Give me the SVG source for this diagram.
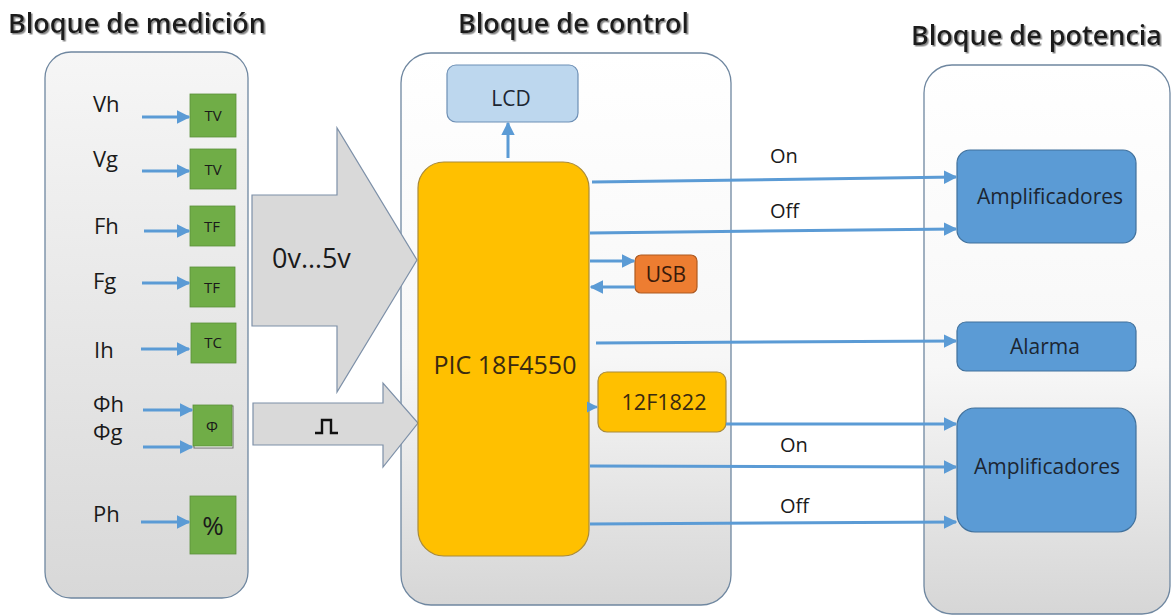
<svg xmlns="http://www.w3.org/2000/svg" width="1171" height="616" viewBox="0 0 1171 616">
<defs>
  <linearGradient id="gBlock" x1="0" y1="0" x2="0" y2="1">
    <stop offset="0" stop-color="#ffffff"/>
    <stop offset="0.55" stop-color="#f7f7f7"/>
    <stop offset="1" stop-color="#d6d6d6"/>
  </linearGradient>
  <linearGradient id="gMeas" x1="0" y1="0" x2="0" y2="1">
    <stop offset="0" stop-color="#f6f6f6"/>
    <stop offset="1" stop-color="#d8d8d8"/>
  </linearGradient>
  <filter id="shadow" x="-5%" y="-20%" width="110%" height="160%">
    <feDropShadow dx="1.5" dy="1.5" stdDeviation="0.6" flood-color="#8a8a8a" flood-opacity="1"/>
  </filter>
  <marker id="arr" viewBox="0 0 10 10" refX="9" refY="5" markerWidth="4.5" markerHeight="4.5" orient="auto" markerUnits="strokeWidth">
    <path d="M0,0 L10,5 L0,10 Z" fill="#5b9bd5"/>
  </marker>
  <style>
    .title{font-family:"Open Sans","Liberation Sans",sans-serif;font-size:27px;font-weight:600;fill:#1e1e1e}
    .lbl{font-family:"Open Sans","Liberation Sans",sans-serif;font-size:22px;fill:#1a1a1a}
    .small{font-family:"Open Sans","Liberation Sans",sans-serif;font-size:15px;fill:#1a1a1a;text-anchor:middle}
    .mid{font-family:"Open Sans","Liberation Sans",sans-serif;font-size:21px;fill:#1c2633;text-anchor:middle}
    .block{stroke:#6f87a0;stroke-width:1.3;fill:url(#gBlock)}
    .green{fill:#70ad47;stroke:#5a8f3a;stroke-width:0.8}
    .blue{fill:#5b9bd5;stroke:#41719c;stroke-width:1.2}
    .conn{stroke:#5b9bd5;stroke-width:3;fill:none;marker-end:url(#arr)}
    .big{fill:#d9d9d9;stroke:#7d90a8;stroke-width:1.2}
  </style>
</defs>
<rect width="1171" height="616" fill="#ffffff"/>

<!-- Titles -->
<text class="title" x="8" y="33" filter="url(#shadow)">Bloque de medición</text>
<text class="title" x="458" y="33" filter="url(#shadow)">Bloque de control</text>
<text class="title" x="911" y="45" filter="url(#shadow)">Bloque de potencia</text>

<!-- Containers -->
<g id="bloque-medicion">
  <rect x="45" y="52" width="203" height="546" rx="26" class="block" style="fill:url(#gMeas)"/>
</g>
<g id="bloque-control">
  <rect x="401" y="53" width="330" height="552" rx="30" class="block"/>
</g>
<g id="bloque-potencia">
  <rect x="924" y="65" width="246" height="549" rx="28" class="block"/>
</g>

<!-- Big arrows -->
<g id="flecha-analogica">
  <path class="big" d="M252,195 L337,195 L337,128 L417,260 L337,392 L337,326 L252,326 Z"/>
  <text class="lbl" x="272" y="268" style="font-size:27px">0v…5v</text>
</g>
<g id="flecha-pulsos">
  <path class="big" d="M253,403 L383,403 L383,383 L418,423 L383,467 L383,445 L253,445 Z"/>
  <path d="M315,433 L322,433 L322,420 L331,420 L331,433 L338,433" fill="none" stroke="#111" stroke-width="2.4"/>
</g>

<!-- Measurement nodes -->
<g id="tv1"><rect class="green" x="190" y="94" width="46" height="43"/><text class="small" x="213" y="121">TV</text></g>
<g id="tv2"><rect class="green" x="190" y="149" width="46" height="40"/><text class="small" x="213" y="175">TV</text></g>
<g id="tf1"><rect class="green" x="190" y="206" width="45" height="40"/><text class="small" x="212" y="232">TF</text></g>
<g id="tf2"><rect class="green" x="190" y="267" width="45" height="40"/><text class="small" x="212" y="293">TF</text></g>
<g id="tc"><rect class="green" x="191" y="323" width="45" height="40"/><text class="small" x="213" y="348">TC</text></g>
<g id="phi"><rect x="194" y="406" width="39" height="42" fill="#ffffff" stroke="#6a6a6a" stroke-width="1"/><rect class="green" x="193" y="405" width="39" height="41"/><text class="small" x="212" y="432">Φ</text></g>
<g id="pct"><rect class="green" x="190" y="496" width="46" height="58"/><text class="mid" x="213" y="535" style="font-size:26px;fill:#1a1a1a">%</text></g>

<g id="labels-medicion">
  <text class="lbl" x="93" y="112">Vh</text>
  <text class="lbl" x="93" y="167">Vg</text>
  <text class="lbl" x="94" y="234">Fh</text>
  <text class="lbl" x="93" y="289">Fg</text>
  <text class="lbl" x="94" y="358">Ih</text>
  <text class="lbl" x="93" y="412">Φh</text>
  <text class="lbl" x="93" y="440">Φg</text>
  <text class="lbl" x="93" y="522">Ph</text>
</g>

<!-- Control nodes -->
<g id="lcd"><rect x="447" y="65" width="131" height="57" rx="9" fill="#bdd7ee" stroke="#6d8fb5" stroke-width="1.2"/><text class="mid" x="511" y="106">LCD</text></g>
<g id="pic"><rect x="418" y="162" width="171" height="394" rx="26" fill="#ffc000" stroke="#a88a3a" stroke-width="1.2"/><text class="lbl" x="505" y="374" text-anchor="middle" style="font-size:25px;fill:#3a2a10">PIC 18F4550</text></g>
<g id="usb"><rect x="635" y="255" width="62" height="38" rx="6" fill="#ed7d31" stroke="#ae5a21" stroke-width="1.2"/><text class="mid" x="666" y="282" style="fill:#3a1a0a">USB</text></g>
<g id="f1822"><rect x="598" y="372" width="128" height="60" rx="9" fill="#ffc000" stroke="#a88a3a" stroke-width="1.2"/><text class="mid" x="664" y="410" style="fill:#3a2a10;font-size:21.5px">12F1822</text></g>

<!-- Power nodes -->
<g id="amp1"><rect class="blue" x="957" y="150" width="179" height="93" rx="13"/><text class="mid" x="1050" y="204">Amplificadores</text></g>
<g id="alarma"><rect class="blue" x="957" y="322" width="179" height="49" rx="9"/><text class="mid" x="1045" y="354">Alarma</text></g>
<g id="amp2"><rect class="blue" x="957" y="408" width="179" height="124" rx="18"/><text class="mid" x="1047" y="474">Amplificadores</text></g>

<!-- Connectors -->
<g id="connectors">
  <line class="conn" x1="142" y1="117" x2="189" y2="117"/>
  <line class="conn" x1="142" y1="171" x2="189" y2="171"/>
  <line class="conn" x1="144" y1="231" x2="189" y2="231"/>
  <line class="conn" x1="142" y1="283" x2="189" y2="283"/>
  <line class="conn" x1="141" y1="349" x2="189" y2="349"/>
  <line class="conn" x1="143" y1="410" x2="192" y2="410"/>
  <line class="conn" x1="143" y1="447" x2="192" y2="447"/>
  <line class="conn" x1="141" y1="522" x2="189" y2="522"/>

  <line class="conn" x1="508" y1="158" x2="508" y2="123"/>
  <line class="conn" x1="592" y1="182" x2="956" y2="177"/>
  <line class="conn" x1="590" y1="233" x2="956" y2="229"/>
  <line class="conn" x1="590" y1="261" x2="634" y2="261"/>
  <line class="conn" x1="635" y1="287" x2="591" y2="287"/>
  <line class="conn" x1="596" y1="343" x2="956" y2="341"/>
  <line class="conn" x1="589" y1="407" x2="597" y2="407" style="stroke-width:2.5"/>
  <line class="conn" x1="726" y1="424" x2="956" y2="424"/>
  <line class="conn" x1="590" y1="466" x2="956" y2="467"/>
  <line class="conn" x1="590" y1="524" x2="956" y2="522"/>

  <text class="lbl" x="770" y="163" style="font-size:20px">On</text>
  <text class="lbl" x="770" y="218" style="font-size:20px">Off</text>
  <text class="lbl" x="780" y="452" style="font-size:20px">On</text>
  <text class="lbl" x="780" y="513" style="font-size:20px">Off</text>
</g>
</svg>
